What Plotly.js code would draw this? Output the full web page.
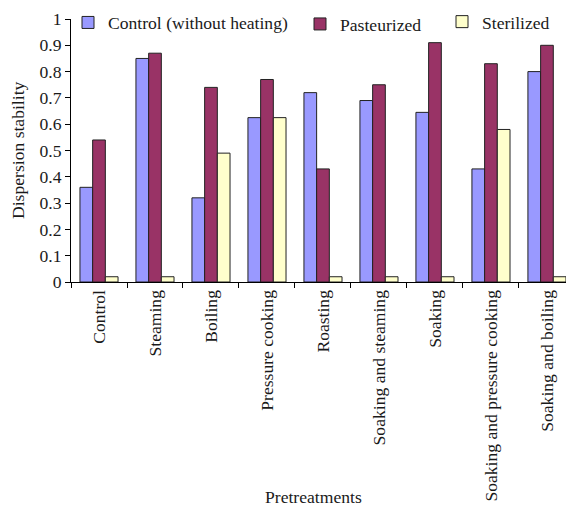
<!DOCTYPE html>
<html><head><meta charset="utf-8">
<script src="https://cdn.plot.ly/plotly-3.0.1.min.js"></script>
<style>html,body{margin:0;padding:0;background:#fff}#c{width:566px;height:506px}</style>
</head><body><div id="c"></div>
<script>
const categories = ["Control","Steaming","Boiling","Pressure cooking","Roasting","Soaking and steaming","Soaking","Soaking and pressure cooking","Soaking and boiling"];
const controlVals = [0.36,0.85,0.32,0.625,0.72,0.69,0.645,0.43,0.80];
const pasteurizedVals = [0.54,0.87,0.74,0.77,0.43,0.75,0.91,0.83,0.90];
const sterilizedVals = [0.02,0.02,0.49,0.625,0.02,0.02,0.02,0.58,0.02];
const seriesNames = ["Control (without heating)","Pasteurized","Sterilized"];
const seriesColors = ["#9999FF","#993366","#FFFFCC"];

const font = {family:"Liberation Serif", size:17.6, color:"#1a1a1a"};
const vals = [controlVals, pasteurizedVals, sterilizedVals];
const legendIds = ["legend","legend2","legend3"];
const traces = vals.map((v,i)=>({
  type:"bar", x:categories, y:v, name:seriesNames[i],
  marker:{color:seriesColors[i], line:{color:"#222", width:1}},
  legend:legendIds[i], hoverinfo:"skip"
}));

const legendBase = {orientation:"h", xanchor:"left", yanchor:"middle", bgcolor:"rgba(0,0,0,0)", font:font, borderwidth:0, tracegroupgap:0};
const layout = {
  width:566, height:506,
  margin:{l:71, r:0, t:19, b:224},
  paper_bgcolor:"#fff", plot_bgcolor:"#fff",
  font:font,
  barmode:"group", bargap:0.32, bargroupgap:0,
  showlegend:true,
  legend:Object.assign({}, legendBase, {x:(68-71)/495, y:1-(22.5-19)/263}),
  legend2:Object.assign({}, legendBase, {x:(300-71)/495, y:1-(24-19)/263}),
  legend3:Object.assign({}, legendBase, {x:(442-71)/495, y:1-(21.7-19)/263}),
  xaxis:{type:"category", range:[-0.5,8.34], showgrid:false, showline:true, linecolor:"#000", linewidth:1,
    ticks:"outside", tickson:"boundaries", ticklen:5, tickcolor:"#000", tickangle:-90, tickfont:font, automargin:false, fixedrange:true},
  yaxis:{range:[0,1], dtick:0.1, showgrid:false, showline:true, linecolor:"#000", linewidth:1, zeroline:false,
    ticks:"outside", ticklen:5, tickcolor:"#000", tickfont:font, automargin:false, fixedrange:true},
  annotations:[
    {text:"Dispersion stability", xref:"paper", yref:"paper", x:(18-71)/495, y:1-(150-19)/263, textangle:-90, showarrow:false, font:font, xanchor:"center", yanchor:"middle"},
    {text:"Pretreatments", xref:"paper", yref:"paper", x:(313-71)/495, y:1-(497-19)/263, showarrow:false, font:font, xanchor:"center", yanchor:"middle"}
  ]
};
Plotly.newPlot("c", traces, layout, {displayModeBar:false, staticPlot:true});
</script></body></html>
